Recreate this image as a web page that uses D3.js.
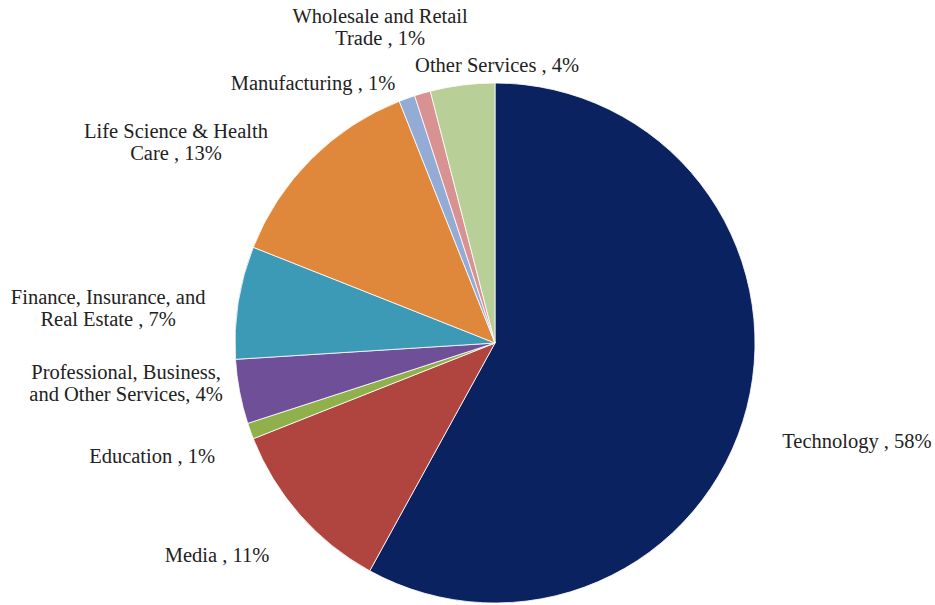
<!DOCTYPE html>
<html>
<head>
  <meta charset="utf-8">
  <title>Industry share</title>
  <script src="https://d3js.org/d3.v7.min.js"></script>
  <style>
    body { margin: 0; background: #fff; }
    text { font-family: "Liberation Serif", "Times New Roman", serif; font-size: 20.5px; fill: #222; }
  </style>
</head>
<body>
  <div id="chart"></div>
  <script>
    // slices, clockwise from 12 o'clock
    var categories = ["Technology", "Media", "Education", "Professional, Business, and Other Services",
      "Finance, Insurance, and Real Estate", "Life Science & Health Care", "Manufacturing",
      "Wholesale and Retail Trade", "Other Services"];
    var values = [58, 11, 1, 4, 7, 13, 1, 1, 4];
    var labelLines = [
      ["Technology , 58%"],
      ["Media , 11%"],
      ["Education , 1%"],
      ["Professional, Business,", "and Other Services, 4%"],
      ["Finance, Insurance, and", "Real Estate , 7%"],
      ["Life Science & Health", "Care , 13%"],
      ["Manufacturing , 1%"],
      ["Wholesale and Retail", "Trade , 1%"],
      ["Other Services , 4%"]
    ];
    var colors = ["#0b2260", "#b0443f", "#8fb04b", "#6e4f98", "#3d9ab6", "#df873a", "#93acd6", "#d89292", "#b8cf97"];

    // label placement, in radius units from pie centre (layout only)
    var labelOffset = [[1.392, 0.404], [-1.069, 0.842], [-1.319, 0.462], [-1.419, 0.138],
      [-1.488, -0.150], [-1.227, -0.788], [-0.7, -0.973], [-0.442, -1.231], [0.008, -1.042]];

    var width = 935, height = 605,
      cx = 495, cy = 343, radius = 260, lineH = 22;

    var svg = d3.select("#chart").append("svg")
      .attr("width", width)
      .attr("height", height);

    var pie = d3.pie().sort(null).value(function(d) { return d; });
    var arc = d3.arc().innerRadius(0).outerRadius(radius);

    var g = svg.append("g").attr("transform", "translate(" + cx + "," + cy + ")");

    g.selectAll("path")
      .data(pie(values))
      .enter().append("path")
      .attr("d", arc)
      .attr("fill", function(d, i) { return colors[i]; })
      .attr("stroke", "#fff")
      .attr("stroke-width", 0.8);

    var labels = g.selectAll("text.lbl")
      .data(categories)
      .enter().append("text")
      .attr("class", "lbl")
      .attr("text-anchor", "middle")
      .attr("transform", function(d, i) {
        return "translate(" + labelOffset[i][0] * radius + "," + labelOffset[i][1] * radius + ")";
      });

    labels.selectAll("tspan")
      .data(function(d, i) { return labelLines[i]; })
      .enter().append("tspan")
      .attr("x", 0)
      .attr("y", function(d, j) { return j * lineH; })
      .text(function(d) { return d; });
  </script>
</body>
</html>
